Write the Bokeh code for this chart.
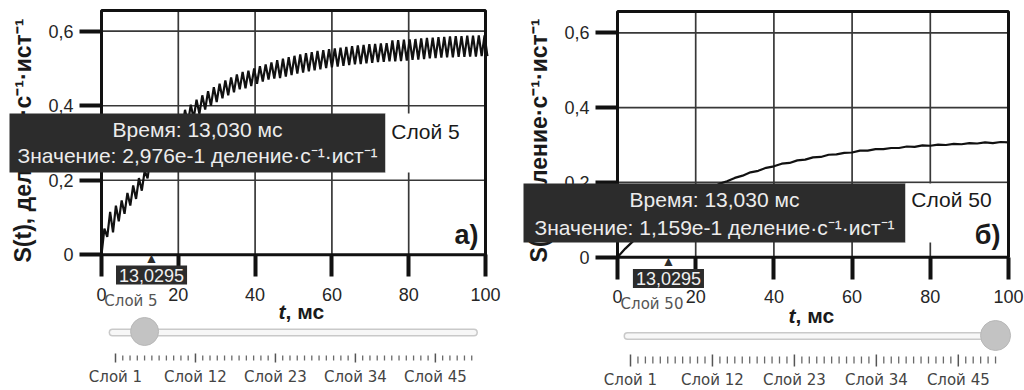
import math
from bokeh.plotting import figure
from bokeh.layouts import row
from bokeh.models import Range1d, FixedTicker, CustomJSTickFormatter, Label, BoxAnnotation
from bokeh.core.properties import value
from bokeh.embed import file_html
from bokeh.resources import INLINE

# ---------------- data ----------------
X_TICKS = [0, 20, 40, 60, 80, 100]
Y_TICKS = [0, 0.2, 0.4, 0.6]
T_RANGE = (0, 100)

# panel a (layer 5): alternating trough / peak readings, one every 0.75 ms
STEP_A = 0.75
S_A = [0.000, 0.070, 0.048, 0.115, 0.060, 0.132, 0.090, 0.146, 0.110, 0.166,
       0.132, 0.186, 0.150, 0.206, 0.172, 0.226, 0.205, 0.262, 0.240, 0.300,
       0.270, 0.323, 0.288, 0.342, 0.306, 0.359, 0.323, 0.375, 0.338, 0.389,
       0.352, 0.403, 0.366, 0.416, 0.378, 0.428, 0.390, 0.439, 0.400, 0.450,
       0.410, 0.459, 0.420, 0.468, 0.428, 0.476, 0.436, 0.484, 0.444, 0.491,
       0.447, 0.494, 0.453, 0.500, 0.459, 0.506, 0.465, 0.511, 0.470, 0.516,
       0.473, 0.522, 0.474, 0.526, 0.478, 0.530, 0.482, 0.534, 0.486, 0.538,
       0.489, 0.541, 0.492, 0.544, 0.495, 0.547, 0.498, 0.549, 0.501, 0.552,
       0.503, 0.554, 0.505, 0.556, 0.507, 0.558, 0.509, 0.560, 0.511, 0.562,
       0.512, 0.563, 0.514, 0.565, 0.515, 0.566, 0.517, 0.567, 0.518, 0.568,
       0.519, 0.575, 0.519, 0.576, 0.520, 0.577, 0.521, 0.578, 0.523, 0.579,
       0.524, 0.581, 0.525, 0.582, 0.527, 0.583, 0.528, 0.584, 0.529, 0.585,
       0.530, 0.586, 0.530, 0.587, 0.531, 0.587, 0.531, 0.588, 0.532, 0.588,
       0.532, 0.589, 0.533, 0.589, 0.533]
T_A = [k * STEP_A for k in range(len(S_A))]

# panel b (layer 50): smooth response, one reading every 2 ms
STEP_B = 2.0
S_B = [0.000, 0.023, 0.043, 0.064, 0.080, 0.098, 0.112, 0.128, 0.140, 0.154,
       0.164, 0.176, 0.185, 0.196, 0.203, 0.212, 0.218, 0.227, 0.231, 0.239,
       0.243, 0.250, 0.252, 0.259, 0.261, 0.267, 0.268, 0.274, 0.275, 0.279,
       0.280, 0.285, 0.285, 0.289, 0.289, 0.292, 0.292, 0.296, 0.295, 0.299,
       0.298, 0.301, 0.300, 0.303, 0.302, 0.305, 0.304, 0.307, 0.305, 0.308,
       0.307]
T_B = [k * STEP_B for k in range(len(S_B))]

SERIES_T = [T_A, T_B]
SERIES_S = [S_A, S_B]

LAYERS = list(range(1, 51))
LAYER_LABEL_AT = [1, 12, 23, 34, 45]
LAYER_LABELS = ["Слой 1", "Слой 12", "Слой 23", "Слой 34", "Слой 45"]
SELECTED_LAYERS = [5, 50]
SELECTED_NAMES = ["Слой 5", "Слой 50"]
PANEL_TAGS = ["а)", "б)"]
HOVER_T = 13.03
CURSOR_TEXT = "13,0295"
HOVER_TIME_TEXT = "Время: 13,030 мс"
HOVER_VALUE_TEXT = ["Значение: 2,976e-1 деление·с⁻¹·ист⁻¹",
                    "Значение: 1,159e-1 деление·с⁻¹·ист⁻¹"]
Y_LABEL = "S(t), деление·с⁻¹·ист⁻¹"
X_LABEL_VAR = "t"
X_LABEL_UNIT = ", мс"

# ---------------- layout / style (page pixels) ----------------
FONT = "Liberation Sans"
SLIDER_FONT = "DejaVu Sans"
PAGE_H = 390
DARK = "#2c2c2c"
INK = "#1a1a1a"

GEOM = [
    dict(fig_x=0, fig_w=510, left=101, right=485, top=10, bottom=254.3, y06=30.7,
         tip=(9, 385, 113, 172), line1=129, line2=155, tip_center=197,
         legend=(425, 131), cursor_y=274.5, notch_y=257, note=(130.5, 300),
         tag=(478, 234), ylab=(22, 140), tlab=(285, 311),
         sl_first=115, sl_step=7.27, track_y=332, handle_y=331, handle_r=14,
         tick_minor=(355, 360), tick_major=(353, 362), label_y=376.5),
    dict(fig_x=510, fig_w=514, left=617, right=1008, top=11, bottom=256.7, y06=32.3,
         tip=(523, 905, 183, 242), line1=199, line2=227, tip_center=714,
         legend=(951, 199), cursor_y=278, notch_y=260, note=(651.5, 303),
         tag=(1000, 234), ylab=(538, 140), tlab=(795, 315),
         sl_first=630, sl_step=7.45, track_y=335.5, handle_y=335, handle_r=15,
         tick_minor=(356, 363), tick_major=(354, 366), label_y=379.5),
]


def make_panel(i):
    g = GEOM[i]
    kx = (g["right"] - g["left"]) / (T_RANGE[1] - T_RANGE[0])
    ky = (g["bottom"] - g["y06"]) / Y_TICKS[-1]

    def dx(px):
        return T_RANGE[0] + (px - g["left"]) / kx

    def dy(py):
        return (g["bottom"] - py) / ky

    def lay(px):
        return LAYERS[0] + (px - g["sl_first"]) / g["sl_step"]

    y_top = dy(g["top"])
    p = figure(width=g["fig_w"], height=PAGE_H,
               x_range=Range1d(dx(g["fig_x"]), dx(g["fig_x"] + g["fig_w"])),
               y_range=Range1d(dy(PAGE_H), dy(0)),
               toolbar_location=None, output_backend="svg", title=None,
               min_border=0, min_border_left=0, min_border_right=0,
               min_border_top=0, min_border_bottom=0)
    p.extra_x_ranges = {"layer": Range1d(lay(g["fig_x"]), lay(g["fig_x"] + g["fig_w"]))}
    p.extra_y_ranges = {"px": Range1d(PAGE_H, 0)}
    p.background_fill_color = "white"
    p.border_fill_color = "white"
    p.outline_line_color = None
    p.grid.visible = False

    # axes drawn by bokeh at the data origin
    p.xaxis.fixed_location = 0
    p.yaxis.fixed_location = 0
    p.xaxis.ticker = FixedTicker(ticks=X_TICKS)
    p.yaxis.ticker = FixedTicker(ticks=Y_TICKS)
    for ax in (p.xaxis[0], p.yaxis[0]):
        ax.axis_line_color = None
        ax.major_tick_in = 0
        ax.major_tick_out = 22
        ax.major_tick_line_width = 4
        ax.major_tick_line_color = "#111111"
        ax.minor_tick_line_color = None
        ax.major_label_text_font = FONT
        ax.major_label_text_font_size = "18px"
        ax.major_label_text_color = "#262626"
    p.yaxis.major_label_standoff = 6
    p.xaxis.major_label_standoff = 11
    p.yaxis.formatter = CustomJSTickFormatter(
        code="return tick == 0 ? '0' : tick.toFixed(1).replace('.', ',');")
    p.xaxis.formatter = CustomJSTickFormatter(code="return tick.toFixed(0);")

    # grid lines and plot box
    gx = X_TICKS[1:-1]
    gy = Y_TICKS[1:]
    p.segment(x0=gx, y0=0, x1=gx, y1=y_top, line_color="#383838", line_width=1.7)
    p.segment(x0=T_RANGE[0], y0=gy, x1=T_RANGE[1], y1=gy, line_color="#383838", line_width=1.7)
    p.quad(left=[T_RANGE[0]], right=[T_RANGE[1]], bottom=[0], top=[y_top],
           fill_color=None, line_color="#111111", line_width=3)

    p.line(SERIES_T[i], SERIES_S[i], line_color="#111111", line_width=2.2)

    # axis titles
    p.add_layout(Label(x=dx(g["ylab"][0]), y=dy(g["ylab"][1]), text=Y_LABEL, angle=math.pi / 2,
                       text_align="center", text_baseline="middle", text_font=FONT,
                       text_font_size="23px", text_font_style="bold", text_color=INK))
    p.add_layout(Label(x=dx(g["tlab"][0]), y=dy(g["tlab"][1]), text=X_LABEL_VAR,
                       text_align="right", text_baseline="alphabetic", text_font=FONT,
                       text_font_size="21px", text_font_style="bold italic", text_color=INK))
    p.add_layout(Label(x=dx(g["tlab"][0]), y=dy(g["tlab"][1]), text=X_LABEL_UNIT,
                       text_align="left", text_baseline="alphabetic", text_font=FONT,
                       text_font_size="21px", text_font_style="bold", text_color=INK))

    # hover tooltip
    l, r, t, b = g["tip"]
    p.add_layout(BoxAnnotation(left=dx(l), right=dx(r), top=dy(t), bottom=dy(b),
                               fill_color=DARK, fill_alpha=1, line_color=None, level="overlay"))
    p.add_layout(BoxAnnotation(left=dx(r), right=dx(g["right"] - 1.5), top=dy(t), bottom=dy(b),
                               fill_color="white", fill_alpha=1, line_color=None, level="overlay"))
    p.add_layout(Label(x=dx(g["tip_center"]), y=dy(g["line1"]), text=HOVER_TIME_TEXT,
                       text_align="center", text_baseline="middle", text_font=FONT,
                       text_font_size="21px", text_color="#ececec", level="overlay"))
    p.add_layout(Label(x=dx(g["tip_center"]), y=dy(g["line2"]), text=HOVER_VALUE_TEXT[i],
                       text_align="center", text_baseline="middle", text_font=FONT,
                       text_font_size="21px", text_color="#ececec", level="overlay"))
    p.add_layout(Label(x=dx(g["legend"][0]), y=dy(g["legend"][1]), text=SELECTED_NAMES[i],
                       text_align="center", text_baseline="middle", text_font=FONT,
                       text_font_size="21px", text_color=INK, level="overlay"))

    # panel tag
    p.add_layout(Label(x=dx(g["tag"][0]), y=dy(g["tag"][1]), text=PANEL_TAGS[i],
                       text_align="right", text_baseline="middle", text_font=FONT,
                       text_font_size="27px", text_font_style="bold",
                       text_color=INK, level="overlay"))

    # cursor value on the time axis
    p.add_layout(Label(x=HOVER_T, y=dy(g["notch_y"]), text="▲", text_align="center",
                       text_baseline="middle", text_font=FONT, text_font_size="14px",
                       text_color=DARK, level="overlay"))
    p.add_layout(Label(x=HOVER_T, y=dy(g["cursor_y"]), text=CURSOR_TEXT, text_align="center",
                       text_baseline="middle", text_font=FONT, text_font_size="18px",
                       text_color="#f0f0f0", background_fill_color=DARK, padding=3,
                       level="overlay"))
    p.add_layout(Label(x=dx(g["note"][0]), y=dy(g["note"][1]), text=SELECTED_NAMES[i],
                       text_align="center", text_baseline="middle", text_font=SLIDER_FONT,
                       text_font_size="15px", text_color="#555555"))

    # layer slider
    ty = g["track_y"]
    track_x = [LAYERS[0] - 0.4, LAYERS[-1] + 0.3]
    p.line(track_x, [ty, ty], line_width=8, line_color="#c9c9c9", line_cap="round",
           x_range_name="layer", y_range_name="px")
    p.line(track_x, [ty, ty], line_width=5, line_color="#f7f7f7", line_cap="round",
           x_range_name="layer", y_range_name="px")
    minor = [L for L in LAYERS if L not in LAYER_LABEL_AT]
    p.segment(x0=minor, y0=g["tick_minor"][0], x1=minor, y1=g["tick_minor"][1],
              line_color="#6a6a6a", line_width=1.3, x_range_name="layer", y_range_name="px")
    p.segment(x0=LAYER_LABEL_AT, y0=g["tick_major"][0], x1=LAYER_LABEL_AT, y1=g["tick_major"][1],
              line_color="#555555", line_width=1.5, x_range_name="layer", y_range_name="px")
    p.text(x=LAYER_LABEL_AT, y=g["label_y"], text=LAYER_LABELS, text_align="center",
           text_baseline="middle", text_font=value(SLIDER_FONT), text_font_size="15px",
           text_color="#444444", x_range_name="layer", y_range_name="px")
    p.scatter(x=[SELECTED_LAYERS[i]], y=[g["handle_y"]], size=2 * g["handle_r"], marker="circle",
              fill_color="#c3c3c3", line_color="#b8b8b8", line_width=1,
              x_range_name="layer", y_range_name="px")
    return p


layout = row(make_panel(0), make_panel(1))
open("out.html", "w").write(file_html(layout, INLINE))
